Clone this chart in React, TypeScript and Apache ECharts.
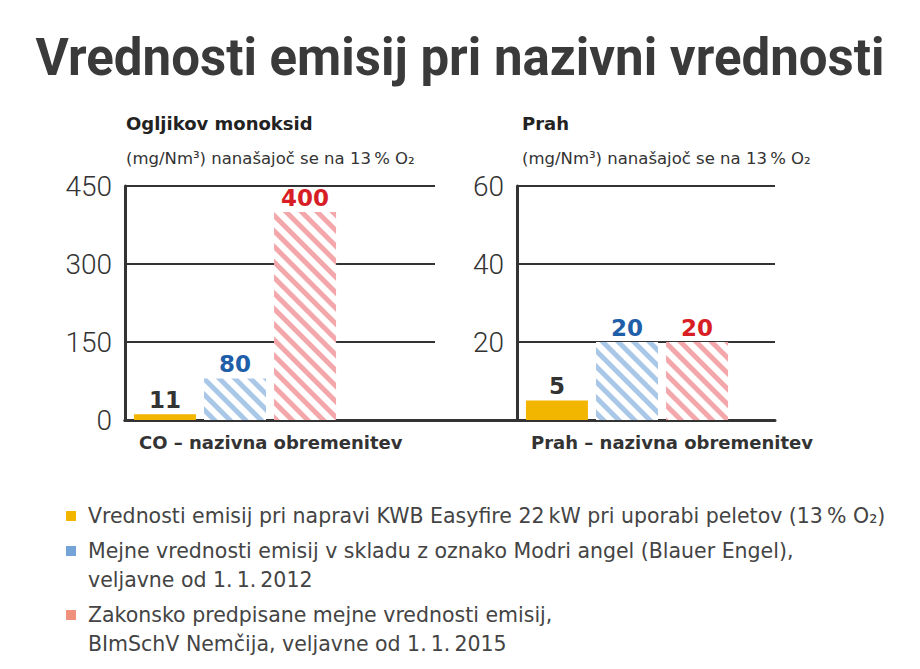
import React, { useEffect, useRef } from 'react';
import * as echarts from 'echarts';

const seriesNames = [
  'Vrednosti emisij pri napravi KWB Easyfire 22\u202fkW pri uporabi peletov (13\u202f% O₂)',
  'Mejne vrednosti emisij v skladu z oznako Modri angel (Blauer Engel),\nveljavne od 1.\u202f1.\u202f2012',
  'Zakonsko predpisane mejne vrednosti emisij,\nBImSchV Nemčija, veljavne od 1.\u202f1.\u202f2015',
];
const coCategories = ['CO – nazivna obremenitev'];
const prahCategories = ['Prah – nazivna obremenitev'];
const coValues = [11, 80, 400];
const prahValues = [5, 20, 20];
const coAxisMax = 450;
const coAxisStep = 150;
const prahAxisMax = 60;
const prahAxisStep = 20;

const SANS = "'DejaVu Sans', sans-serif";
const HEAD = "Roboto, 'Noto Sans', sans-serif";
const INK = '#333333';

const barColors = ['#f3b600', '#a9c7e7', '#f4a7ab'];
const labelColors = [INK, '#1f5ea8', '#d81e25'];
const legendColors = ['#f3b600', '#74a3d8', '#ef917d'];

// square at the top of a tall box, so a two-line text lines up with its first line
const topSquareIcon = 'path://M0,0H10V10H0Z M0,38.9H0.1V39H0Z';

const hatch = (color: string) => ({
  symbol: 'rect',
  symbolSize: 1,
  color,
  dashArrayX: [1, 0],
  dashArrayY: [5, 6],
  rotation: Math.PI / 4,
});

const buildBars = (values: number[], axisIndex: number) =>
  values.map((value, i) => ({
    type: 'bar',
    name: seriesNames[i],
    xAxisIndex: axisIndex,
    yAxisIndex: axisIndex,
    data: [value],
    barWidth: 62,
    barGap: '13%',
    itemStyle:
      i === 0
        ? { color: barColors[0] }
        : { color: '#ffffff', decal: hatch(barColors[i]) },
    label: {
      show: true,
      position: 'top',
      distance: 3,
      color: labelColors[i],
      fontFamily: SANS,
      fontWeight: 'bold',
      fontSize: 23,
    },
  }));

const frameXAxis = (gridIndex: number, name: string) => ({
  type: 'category',
  gridIndex,
  data: [''],
  axisTick: { show: false },
  axisLabel: { show: false },
  axisLine: { show: true, lineStyle: { color: INK, width: 3 } },
  name,
  nameLocation: 'start',
  nameGap: -14,
  nameMoveOverlap: false,
  nameTextStyle: {
    align: 'left',
    verticalAlign: 'top',
    padding: [13, 0, 0, 0],
    color: INK,
    fontFamily: SANS,
    fontWeight: 'bold',
    fontSize: 18,
  },
});

const frameYAxis = (gridIndex: number, max: number, step: number, showZero: boolean) => ({
  type: 'value',
  gridIndex,
  min: 0,
  max,
  interval: step,
  axisLine: { show: true, lineStyle: { color: INK, width: 3 } },
  axisTick: { show: false },
  splitLine: { show: true, lineStyle: { color: INK, width: 2 } },
  axisLabel: {
    margin: 13,
    showMinLabel: showZero,
    color: INK,
    fontFamily: HEAD,
    fontWeight: 300,
    fontSize: 28,
  },
});

const hiddenX = (gridIndex: number, data: string[]) => ({
  type: 'category',
  gridIndex,
  data,
  show: false,
});

const hiddenY = (gridIndex: number, max: number) => ({
  type: 'value',
  gridIndex,
  min: 0,
  max,
  show: false,
});

const subtitle = (left: number, text: string) => ({
  left,
  top: 111,
  padding: 0,
  itemGap: 11,
  text,
  subtext: '(mg/Nm³) nanašajoč se na 13\u202f% O₂',
  textStyle: {
    color: '#222',
    fontFamily: SANS,
    fontWeight: 'bold',
    fontSize: 18,
    lineHeight: 24,
  },
  subtextStyle: {
    color: INK,
    fontFamily: SANS,
    fontSize: 16.5,
    lineHeight: 24,
  },
});

const legendItem = (index: number, top: number, twoLines: boolean) => ({
  orient: 'vertical',
  left: 66,
  top,
  padding: 0,
  itemWidth: 10,
  itemHeight: twoLines ? 39 : 10,
  selectedMode: false,
  icon: twoLines ? topSquareIcon : 'rect',
  textStyle: {
    color: '#444',
    fontFamily: SANS,
    fontSize: 20.5,
    lineHeight: 29,
    padding: [0, 0, 0, 7],
  },
  data: [
    {
      name: seriesNames[index],
      itemStyle: { color: legendColors[index], decal: 'none' },
    },
  ],
});

export default function App() {
  const chartRef = useRef<HTMLDivElement>(null);

  useEffect(() => {
    document.body.style.margin = '0';
    if (!chartRef.current) return;
    const chart = echarts.init(chartRef.current, undefined, { renderer: 'svg' });

    const top = 186;
    const height = 234;

    chart.setOption({
      animation: false,
      backgroundColor: '#ffffff',
      title: [
        {
          text: 'Vrednosti emisij pri nazivni vrednosti',
          left: 'center',
          top: 32,
          padding: 0,
          textStyle: {
            color: '#3a3a3a',
            fontFamily: HEAD,
            fontWeight: 'bold',
            fontSize: 51,
          },
        },
        subtitle(126, 'Ogljikov monoksid'),
        subtitle(522, 'Prah'),
      ],
      legend: [
        legendItem(0, 501.5, false),
        legendItem(1, 536.5, true),
        legendItem(2, 600.5, true),
      ],
      grid: [
        { left: 125, top, width: 310, height },
        { left: 125, top, width: 392, height },
        { left: 125, top, width: 220, height },
        { left: 517, top, width: 258, height },
        { left: 517, top, width: 220, height },
      ],
      xAxis: [
        frameXAxis(0, coCategories[0]),
        {
          type: 'category',
          gridIndex: 1,
          data: [''],
          axisTick: { show: false },
          axisLabel: { show: false },
          axisLine: { show: true, lineStyle: { color: INK, width: 3 } },
        },
        hiddenX(2, coCategories),
        frameXAxis(3, prahCategories[0]),
        hiddenX(4, prahCategories),
      ],
      yAxis: [
        frameYAxis(0, coAxisMax, coAxisStep, true),
        hiddenY(1, coAxisMax),
        hiddenY(2, coAxisMax),
        frameYAxis(3, prahAxisMax, prahAxisStep, false),
        hiddenY(4, prahAxisMax),
      ],
      series: [...buildBars(coValues, 2), ...buildBars(prahValues, 4)],
    });

    return () => {
      chart.dispose();
    };
  }, []);

  return <div ref={chartRef} style={{ width: 920, height: 669 }} />;
}
